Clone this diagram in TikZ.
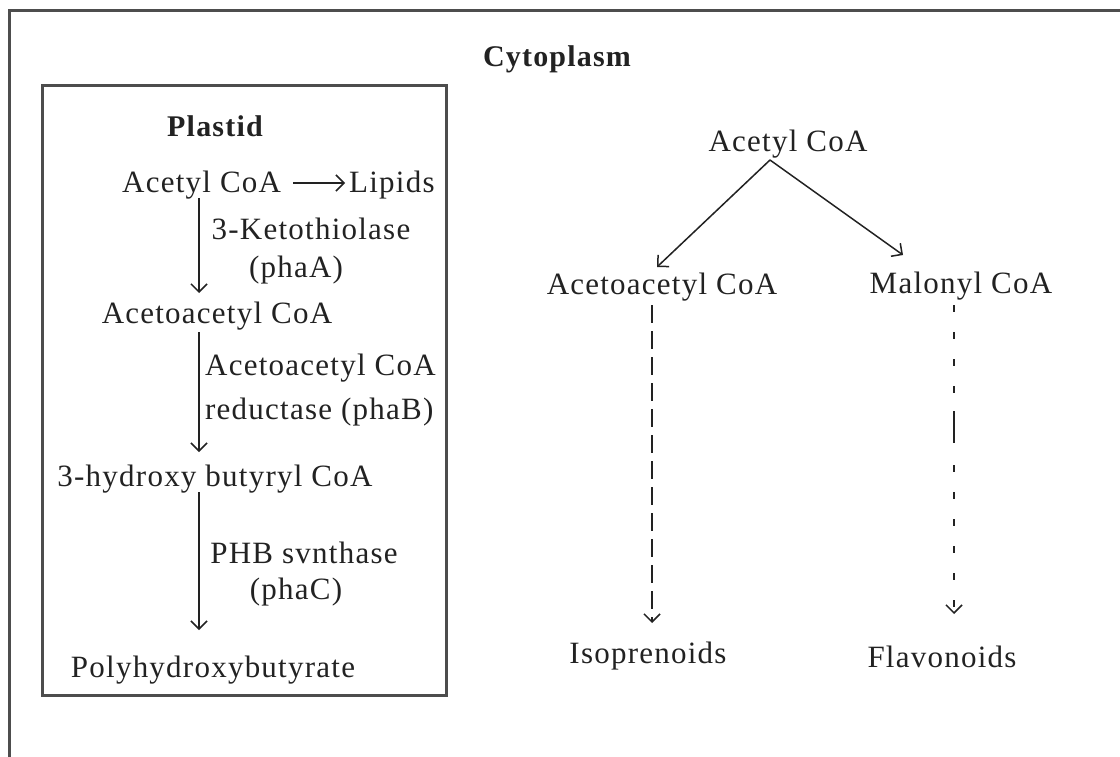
\documentclass[tikz,border=0pt]{standalone}
\usepackage{fontspec}
\setmainfont{Liberation Serif}[LetterSpace=4]
\usetikzlibrary{arrows.meta}
\definecolor{frame}{HTML}{4D4D4D}
\definecolor{ink}{HTML}{222222}
\tikzset{
  lbl/.style={inner sep=0pt, anchor=base, text=ink, font=\fontsize{31}{37}\selectfont},
  lblw/.style={lbl, anchor=base west},
  ttl/.style={lbl, font=\fontsize{30}{36}\selectfont\bfseries},
  arr/.style={draw=ink, line width=1.5pt, -{Straight Barb[length=8pt,width=16pt,line width=1.5pt]}},
  darr/.style={arr, dash pattern=on 18pt off 8pt},
  dotarr/.style={arr, dash pattern=on 7pt off 20pt on 7pt off 20pt on 7pt off 20pt on 7pt off 18pt on 32pt off 22pt on 7pt off 20pt on 7pt off 20pt on 7pt off 20pt on 7pt off 20pt on 7pt off 20pt},
  box/.style={draw=frame, line width=3pt}
}
\begin{document}
\begin{tikzpicture}[x=1pt,y=-1pt]
\useasboundingbox (0,0) rectangle (1120,757);
\fill[white] (0,0) rectangle (1120,757);
% frames
\draw[box] (9,11) rectangle (1140,780);
\draw[box] (42,86) rectangle (446,695);
% titles
\node[ttl] (cyto) at (557,67) {Cytoplasm};
\node[ttl] (plastid) at (215,137) {Plastid};
% plastid pathway
\node[lblw] (acL) at (122,193) {Acetyl CoA};
\node[lblw] (lip) at (349,193) {Lipids};
\coordinate (ls) at (293,183); \coordinate (le) at (345,183);
\draw[arr] (ls) -- (le);
\node[lbl] (acacL) at (217,323) {Acetoacetyl CoA};
\node[lbl] (hyd) at (215,486) {3-hydroxy butyryl CoA};
\node[lbl] (phb) at (213,677) {Polyhydroxybutyrate};
\node[lbl] (e1a) at (311,240) {3-Ketothiolase};
\node[lbl] (e1b) at (296,277) {(phaA)};
\node[lblw] (e2a) at (205,375) {Acetoacetyl CoA};
\node[lblw] (e2b) at (205,419) {reductase (phaB)};
\node[lbl] (e3a) at (304,563) {PHB svnthase};
\node[lbl] (e3b) at (296,599) {(phaC)};
\coordinate (s1) at (199,198); \coordinate (t1) at (199,293);
\coordinate (s2) at (199,332); \coordinate (t2) at (199,452);
\coordinate (s3) at (199,492); \coordinate (t3) at (199,630);
\draw[arr] (s1) -- (t1);
\draw[arr] (s2) -- (t2);
\draw[arr] (s3) -- (t3);
% cytoplasm pathway
\node[lbl] (acR) at (788,152) {Acetyl CoA};
\node[lbl] (acacR) at (662,294) {Acetoacetyl CoA};
\node[lbl] (mal) at (961,293) {Malonyl CoA};
\node[lbl] (iso) at (648,663) {Isoprenoids};
\node[lbl] (flav) at (942,667) {Flavonoids};
\coordinate (apex) at (770,160);
\coordinate (tl) at (657,267);
\coordinate (tr) at (903,255);
\draw[arr] (apex) -- (tl);
\draw[arr] (apex) -- (tr);
\coordinate (dl1) at (652,305); \coordinate (dl2) at (652,623);
\coordinate (dr1) at (954,305); \coordinate (dr2) at (954,614);
\draw[darr] (dl1) -- (dl2);
\draw[dotarr] (dr1) -- (dr2);
\end{tikzpicture}
\end{document}
